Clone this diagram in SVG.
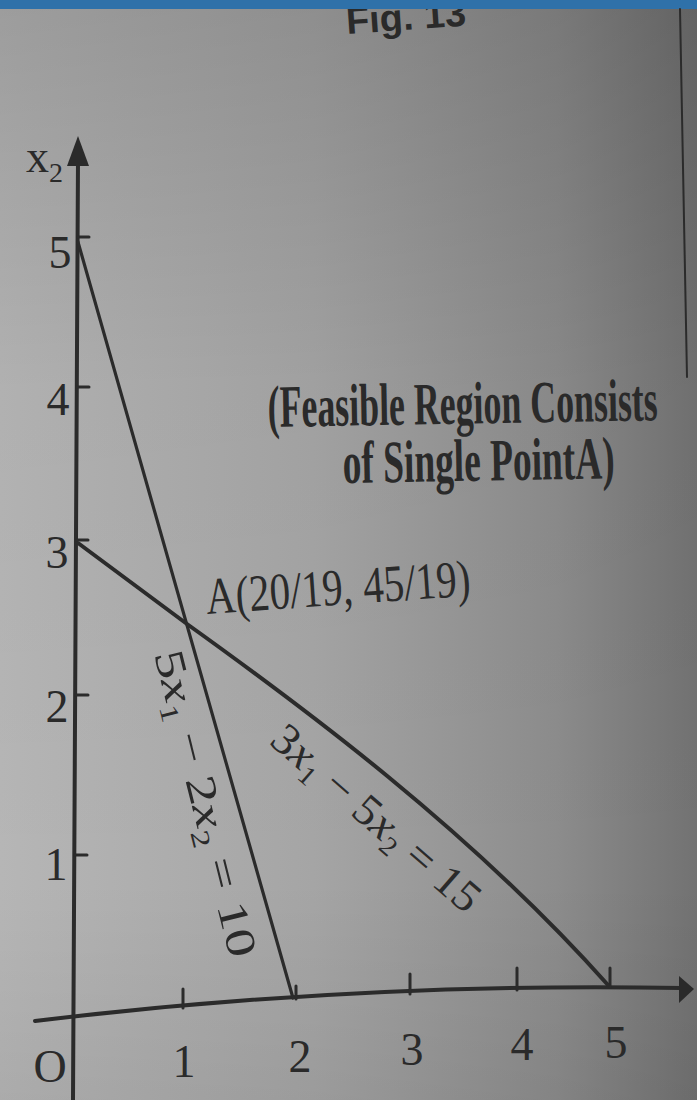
<svg xmlns="http://www.w3.org/2000/svg" width="697" height="1100" viewBox="0 0 697 1100">
  <defs>
    <linearGradient id="bgH" x1="0" y1="0" x2="1" y2="0">
      <stop offset="0" stop-color="#b6b6b6"/>
      <stop offset="0.45" stop-color="#a5a5a5"/>
      <stop offset="0.8" stop-color="#8c8c8c"/>
      <stop offset="1" stop-color="#727272"/>
    </linearGradient>
    <linearGradient id="bgV" x1="0" y1="0" x2="0" y2="1">
      <stop offset="0" stop-color="#000" stop-opacity="0.14"/>
      <stop offset="0.35" stop-color="#000" stop-opacity="0.03"/>
      <stop offset="0.8" stop-color="#000" stop-opacity="0"/>
      <stop offset="1" stop-color="#000" stop-opacity="0.06"/>
    </linearGradient>
  </defs>
  <style>
    .ink { fill: #2a2a2a; }
    .serif { font-family: "Liberation Serif", "Times New Roman", serif; }
    .sans { font-family: "Liberation Sans", Arial, sans-serif; }
    .ln { stroke: #2b2b2b; fill: none; stroke-linecap: round; stroke-linejoin: round; }
    .axis { stroke-width: 4; }
    .tick { stroke-width: 3; }
    .num { font-size: 46px; text-anchor: middle; }
    .it { font-style: italic; }
  </style>

  <!-- page background -->
  <rect x="0" y="0" width="697" height="1100" fill="url(#bgH)"/>
  <rect x="0" y="0" width="697" height="1100" fill="url(#bgV)"/>

  <!-- figure caption (cut by top bar) -->
  <g id="caption">
    <text class="sans ink" x="347" y="34" font-size="38" font-weight="bold" textLength="120" lengthAdjust="spacingAndGlyphs" transform="rotate(-4 347 34)">Fig. 13</text>
  </g>

  <!-- top bar -->
  <rect x="0" y="0" width="697" height="9" fill="#2f71a9"/>

  <!-- page edge line at right -->
  <line class="ln" x1="680" y1="9" x2="687" y2="377" stroke-width="2" stroke="#3a3a3a"/>

  <!-- axes -->
  <g id="axes">
    <line class="ln axis" x1="73" y1="1100" x2="78" y2="160"/>
    <polygon class="ink" points="78,136 67,166 89,166"/>
    <path class="ln axis" d="M35,1021 Q358,982 682,988"/>
    <polygon class="ink" points="694,989 679,976 679,1003"/>
    <!-- y ticks -->
    <line class="ln tick" x1="78" y1="237" x2="89" y2="237"/>
    <line class="ln tick" x1="77" y1="387" x2="89" y2="387"/>
    <line class="ln tick" x1="77" y1="540" x2="88" y2="540"/>
    <line class="ln tick" x1="76" y1="695" x2="88" y2="695"/>
    <line class="ln tick" x1="75" y1="855" x2="87" y2="855"/>
    <!-- x ticks -->
    <line class="ln tick" x1="183" y1="989" x2="183" y2="1008"/>
    <line class="ln tick" x1="296" y1="986" x2="296" y2="999"/>
    <line class="ln tick" x1="410" y1="974" x2="410" y2="994"/>
    <line class="ln tick" x1="517" y1="968" x2="517" y2="990"/>
    <line class="ln tick" x1="610" y1="968" x2="610" y2="987"/>
  </g>

  <!-- axis labels -->
  <g id="axis-labels" class="serif ink">
    <text x="26" y="172" font-size="46">x<tspan dy="10" font-size="28">2</tspan></text>
    <text class="num" x="60" y="268">5</text>
    <text class="num" x="58" y="415">4</text>
    <text class="num" x="57" y="568">3</text>
    <text class="num" x="57" y="722">2</text>
    <text class="num" x="56" y="880">1</text>
    <text class="num" x="50" y="1082">O</text>
    <text class="num" x="184" y="1077">1</text>
    <text class="num" x="300" y="1072">2</text>
    <text class="num" x="412" y="1065">3</text>
    <text class="num" x="522" y="1060">4</text>
    <text class="num" x="616" y="1058">5</text>
  </g>

  <!-- constraint lines -->
  <g id="connectors">
    <line id="line-5x1" class="ln" x1="78" y1="242" x2="293" y2="998" stroke-width="3.2"/>
    <path id="line-3x1" class="ln" d="M78,543 L187,624 C300,705 470,830 608,985" stroke-width="4"/>
  </g>

  <!-- line labels -->
  <g id="label-5x1" class="serif ink">
    <text transform="translate(154,654) rotate(76)" font-size="42" textLength="315" lengthAdjust="spacingAndGlyphs">5<tspan class="it">x</tspan><tspan dy="8" font-size="26">1</tspan><tspan dy="-8"> − 2</tspan><tspan class="it">x</tspan><tspan dy="8" font-size="26">2</tspan><tspan dy="-8"> = 10</tspan></text>
  </g>
  <g id="label-3x1" class="serif ink">
    <text transform="translate(268,743) rotate(41)" font-size="44" textLength="262" lengthAdjust="spacingAndGlyphs">3<tspan class="it">x</tspan><tspan dy="8" font-size="27">1</tspan><tspan dy="-8"> − 5</tspan><tspan class="it">x</tspan><tspan dy="8" font-size="27">2</tspan><tspan dy="-8"> = 15</tspan></text>
  </g>

  <!-- point A -->
  <g id="point-A" class="serif ink">
    <text x="207" y="614" font-size="52" textLength="265" lengthAdjust="spacingAndGlyphs" transform="rotate(-4 207 614)">A(20/19, 45/19)</text>
  </g>

  <!-- note -->
  <g id="note" class="serif ink" font-weight="bold" font-size="60">
    <text x="268" y="427" textLength="390" lengthAdjust="spacingAndGlyphs" transform="rotate(-1 268 427)">(Feasible Region Consists</text>
    <text x="343" y="483" textLength="272" lengthAdjust="spacingAndGlyphs" transform="rotate(-1 343 483)">of Single PointA)</text>
  </g>
</svg>
